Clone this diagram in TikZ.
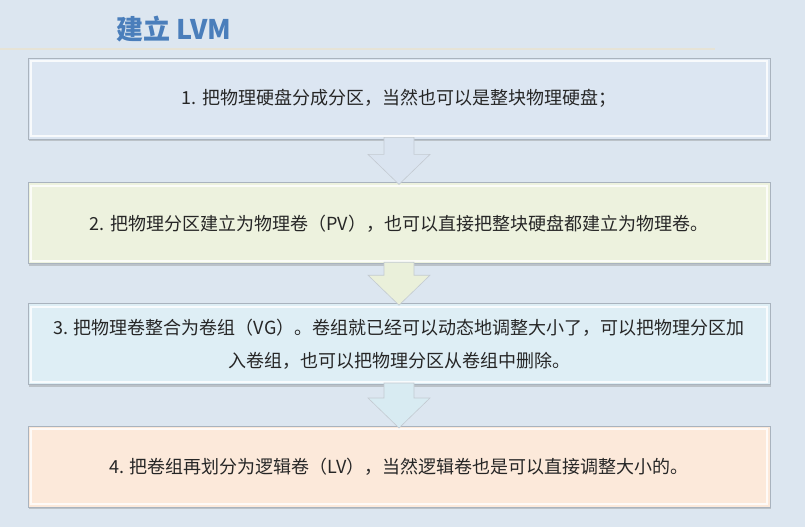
\documentclass[tikz,border=0pt]{standalone}
\usepackage{fontspec}
\setmainfont{Noto Sans CJK SC}
\usetikzlibrary{positioning,calc,shadows}

\definecolor{pagebg}{HTML}{DCE6F0}
\definecolor{titleblue}{HTML}{4A7EBB}
\definecolor{ruleline}{HTML}{E6E3D6}
\definecolor{boxline}{HTML}{A9B3BE}
\definecolor{textdark}{HTML}{262626}
\definecolor{fillpv}{HTML}{DCE6F2}
\definecolor{fillpart}{HTML}{EDF2DE}
\definecolor{fillvg}{HTML}{DEEEF5}
\definecolor{filllv}{HTML}{FCE9DA}
\definecolor{arrowpv}{HTML}{DAE4F0}
\definecolor{arrowpart}{HTML}{EAF0DA}
\definecolor{arrowvg}{HTML}{D8EBF2}

\tikzset{
  stepbox/.style={draw=boxline, line width=0.8pt, minimum width=742pt, minimum height=81pt,
    align=center, text=textdark, font=\fontsize{18}{33}\selectfont,
    drop shadow={opacity=0.35, shadow xshift=1pt, shadow yshift=-2pt},
    path picture={\draw[white, opacity=0.8, line width=2pt]
      ([xshift=3pt,yshift=-3pt]path picture bounding box.north west) rectangle
      ([xshift=-3pt,yshift=3pt]path picture bounding box.south east);}},
  flowline/.style={draw=boxline!70, line width=0.6pt, line join=miter},
}

% block arrow from the bottom of one box to the top of the next
\newcommand\flowarrow[3]{%
  \filldraw[flowline, fill=#3]
    ($(#1.south)+(-15,-2)$) -- ($(#2.north)+(-15,-28)$) -- ($(#2.north)+(-31,-28)$)
    -- ($(#2.north)+(0,2)$)
    -- ($(#2.north)+(31,-28)$) -- ($(#2.north)+(15,-28)$) -- ($(#1.south)+(15,-2)$) -- cycle;}

\begin{document}
\begin{tikzpicture}[x=1pt, y=-1pt]
    \fill[pagebg] (0,0) rectangle (805,527);
    \useasboundingbox (0,0) rectangle (805,527);

    \node (title) [anchor=west, text=titleblue, font=\fontsize{27}{30}\selectfont\bfseries] at (113,29) {建立 LVM};
    \draw[ruleline, line width=1.2pt] (0,49) -- (715,49);

    \node (part) [stepbox, fill=fillpv] at (399,98.5) {1. 把物理硬盘分成分区，当然也可以是整块物理硬盘；};
    \node (pv) [stepbox, fill=fillpart, below=43pt of part] {2. 把物理分区建立为物理卷（PV），也可以直接把整块硬盘都建立为物理卷。};
    \node (vg) [stepbox, fill=fillvg, below=39pt of pv] {3. 把物理卷整合为卷组（VG）。卷组就已经可以动态地调整大小了，可以把物理分区加\\入卷组，也可以把物理分区从卷组中删除。};
    \node (lv) [stepbox, fill=filllv, below=41pt of vg] {4. 把卷组再划分为逻辑卷（LV），当然逻辑卷也是可以直接调整大小的。};

    \flowarrow{part}{pv}{arrowpv}
    \flowarrow{pv}{vg}{arrowpart}
    \flowarrow{vg}{lv}{arrowvg}
\end{tikzpicture}
\end{document}
